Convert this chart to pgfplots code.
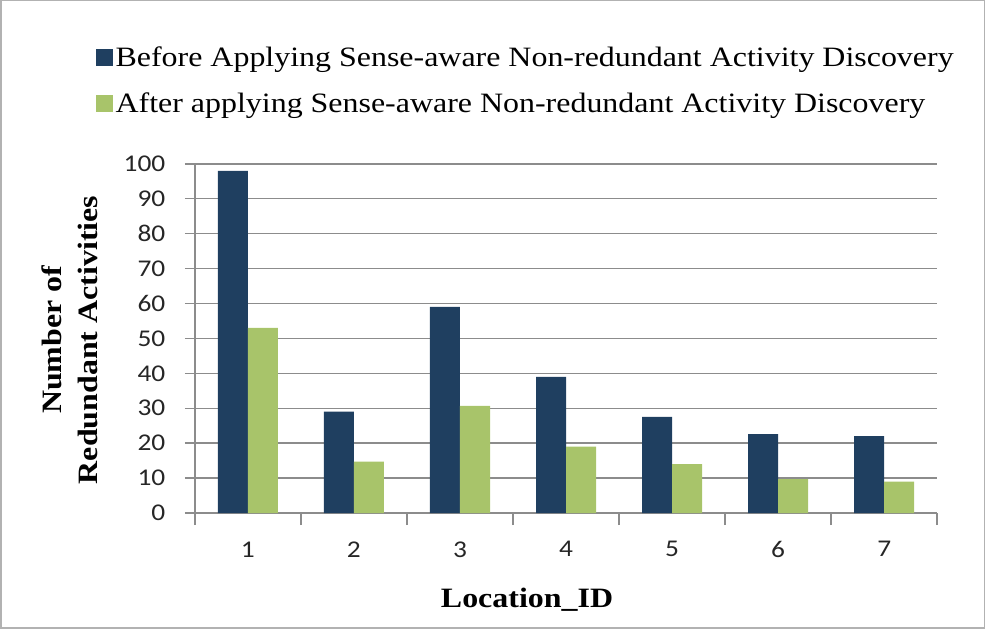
\documentclass[border=0pt]{standalone}
\usepackage{fontspec}
\setmainfont[FakeStretch=1.14]{Liberation Serif}
\newfontfamily\carlito[FakeStretch=1.14]{Carlito}
\usepackage{pgfplots}
\pgfplotsset{compat=1.18}
\definecolor{navy}{HTML}{1F3F60}
\definecolor{lgreen}{HTML}{A8C46A}
\definecolor{gridg}{HTML}{8C8C8C}
\begin{document}
\begin{tikzpicture}[x=1pt,y=1pt]
\draw[gray!60, line width=1.5pt] (1,1) rectangle (984,628);
\begin{axis}[
  at={(195pt,116pt)}, anchor=south west,
  scale only axis, width=742pt, height=349pt,
  ybar=0pt, bar width=30pt,
  xmin=0.5, xmax=7.5, ymin=0, ymax=100,
  xtick={1,...,7},
  minor xtick={0.5,1.5,...,7.5},
  major x tick style={draw=none},
  ytick={0,10,...,100},
  axis x line*=bottom, axis y line*=left,
  axis line style={gridg, line width=1.5pt},
  tick style={gridg, line width=1.5pt},
  tick align=outside,
  major tick length=10pt, minor tick length=12pt,
  ymajorgrids, grid style={gridg, line width=1.5pt},
  /pgf/number format/assume math mode=true,
  tick label style={font=\carlito\fontsize{24}{24}\selectfont, text=black!85},
  xticklabel style={yshift=-15pt},
  yticklabel style={xshift=-16pt},
  legend style={at={(axis description cs:-0.138,1.35)}, anchor=north west,
    draw=none, fill=none, font=\fontsize{28}{32}\selectfont,
    nodes={inner sep=3pt}, row sep=19pt, column sep=0pt},
  legend cell align=left,
  legend image code/.code={\fill[#1] (0pt,-8.5pt) rectangle (17pt,8.5pt);},
]
\addplot[fill=navy, draw=none] coordinates {(1,98) (2,29) (3,59) (4,39) (5,27.5) (6,22.6) (7,22)};
\addplot[fill=lgreen, draw=none] coordinates {(1,53) (2,14.7) (3,30.7) (4,19) (5,14) (6,9.7) (7,9)};
\legend{Before Applying Sense-aware Non-redundant Activity Discovery, After applying Sense-aware Non-redundant Activity Discovery}
\end{axis}
\node[rotate=90, align=center, font=\bfseries\fontsize{28}{36}\selectfont] at (70,289) {Number of\\Redundant Activities};
\node[font=\bfseries\fontsize{28}{36}\selectfont] at (527,29) {Location\_ID};
\end{tikzpicture}
\end{document}
